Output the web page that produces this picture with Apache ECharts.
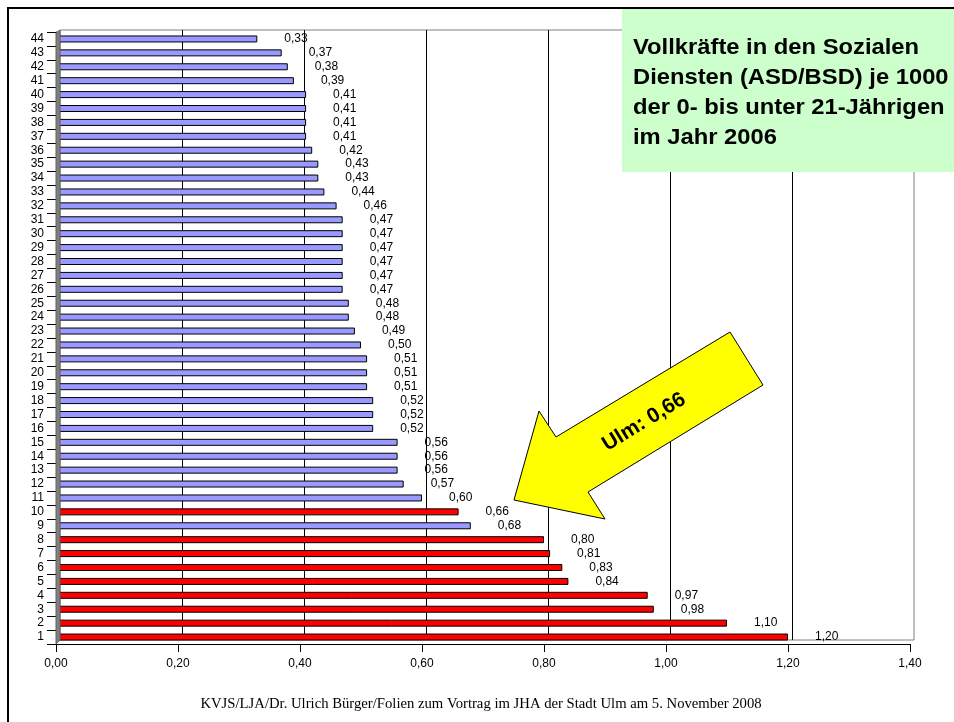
<!DOCTYPE html>
<html>
<head>
<meta charset="utf-8">
<script src="https://cdn.jsdelivr.net/npm/echarts@6/dist/echarts.min.js"></script>
<style>html,body{margin:0;padding:0;background:#fff}#c{width:954px;height:722px}</style>
</head>
<body>
<div id="c"></div>
<script>
var categories = ['1','2','3','4','5','6','7','8','9','10','11','12','13','14','15','16','17','18','19','20','21','22','23','24','25','26','27','28','29','30','31','32','33','34','35','36','37','38','39','40','41','42','43','44'];
var values = [1.20,1.10,0.98,0.97,0.84,0.83,0.81,0.80,0.68,0.66,0.60,0.57,0.56,0.56,0.56,0.52,0.52,0.52,0.51,0.51,0.51,0.50,0.49,0.48,0.48,0.47,0.47,0.47,0.47,0.47,0.47,0.46,0.44,0.43,0.43,0.42,0.41,0.41,0.41,0.41,0.39,0.38,0.37,0.33];
var redCategories = ['1','2','3','4','5','6','7','8','10'];
var xTicks = [0, 0.2, 0.4, 0.6, 0.8, 1.0, 1.2, 1.4];
var titleLines = ['Vollkräfte in den Sozialen', 'Diensten (ASD/BSD) je 1000', 'der 0- bis unter 21-Jährigen', 'im Jahr 2006'];
var arrowText = 'Ulm: 0,66';
var footerText = 'KVJS/LJA/Dr. Ulrich Bürger/Folien zum Vortrag im JHA der Stadt Ulm am 5. November 2008';

var FONT = '"Liberation Sans", Arial, sans-serif';
function fmt(v){ return v.toFixed(2).replace('.', ','); }

var barData = values.map(function(v, i){
  var red = redCategories.indexOf(categories[i]) >= 0;
  return { value: v, itemStyle: { color: red ? '#FF0000' : '#9999FF' } };
});

var chart = echarts.init(document.getElementById('c'), null, {renderer: 'canvas'});
chart.setOption({
  backgroundColor: '#ffffff',
  animation: false,
  grid: [
    { left: 56, right: 44, top: 32, bottom: 78, containLabel: false },
    { left: 60, right: 40, top: 30, bottom: 82, show: true, borderColor: '#808080', borderWidth: 1, backgroundColor: 'transparent' }
  ],
  xAxis: [
    { type: 'value', gridIndex: 0, min: xTicks[0], max: xTicks[xTicks.length-1], interval: 0.2,
      axisLine: { show: true, lineStyle: { color: '#000', width: 1 } },
      axisTick: { show: true, length: 8, lineStyle: { color: '#000' } },
      axisLabel: { formatter: fmt, fontFamily: FONT, fontSize: 12, color: '#000', margin: 14 },
      splitLine: { show: false } },
    { type: 'value', gridIndex: 1, min: xTicks[0], max: xTicks[xTicks.length-1], interval: 0.2,
      axisLine: { show: false }, axisTick: { show: false }, axisLabel: { show: false },
      splitLine: { show: true, showMinLine: false, showMaxLine: false, lineStyle: { color: '#000', width: 1 } } }
  ],
  yAxis: [
    { type: 'category', gridIndex: 0, data: categories,
      axisLine: { show: true, lineStyle: { color: '#000', width: 1 } },
      axisTick: { show: true, length: 9, lineStyle: { color: '#000' } },
      axisLabel: { fontFamily: FONT, fontSize: 12, color: '#000', margin: 12, interval: 0 },
      splitLine: { show: false } },
    { type: 'category', gridIndex: 1, data: categories, show: false }
  ],
  series: [{
    type: 'bar', xAxisIndex: 0, yAxisIndex: 0, data: barData, barWidth: 7,
    itemStyle: { borderColor: '#000', borderWidth: 1 },
    label: { show: true, position: 'right', distance: 27, formatter: function(p){ return fmt(p.value); },
             fontFamily: FONT, fontSize: 12, color: '#000' }
  }],
  graphic: [
    { type: 'rect', z: 1, shape: { x: 8, y: 8, width: 1200, height: 1200 }, style: { fill: 'none', stroke: '#000', lineWidth: 2 } },
    { type: 'polygon', z: 50, shape: { points: [[56,33],[60,30],[60,640],[56,644]] }, style: { fill: '#808080', stroke: '#606060', lineWidth: 1 } },
    { type: 'rect', z: 100, shape: { x: 622, y: 9, width: 340, height: 163 }, style: { fill: '#CCFFCC' } },
    { type: 'text', z: 101, x: 633, y: 33, scaleX: 1.08, style: { text: titleLines.join('\n'), font: 'bold 22px ' + FONT, fill: '#000', lineHeight: 30, align: 'left', verticalAlign: 'top' } },
    { type: 'polygon', z: 100, shape: { points: [[514,500],[539,411],[556,437],[730,332],[763,385],[588,492],[605,519]] }, style: { fill: '#FFFF00', stroke: '#000', lineWidth: 1 } },
    { type: 'text', z: 101, x: 644, y: 422, rotation: 31.5 * Math.PI / 180, style: { text: arrowText, font: 'bold 21px ' + FONT, fill: '#000', align: 'center', verticalAlign: 'middle' } },
    { type: 'text', z: 101, x: 481, y: 704, style: { text: footerText, font: '14.7px "Liberation Serif", "Times New Roman", serif', fill: '#000', align: 'center', verticalAlign: 'middle' } }
  ]
});
</script>
</body>
</html>
